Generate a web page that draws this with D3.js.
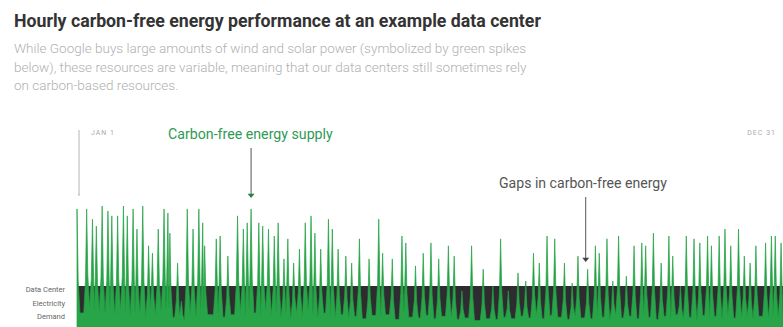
<!DOCTYPE html>
<html><head><meta charset="utf-8">
<script src="https://cdn.jsdelivr.net/npm/d3@7"></script>
<style>body{margin:0;background:#fff}svg{display:block}</style>
</head><body><svg id="c" width="783" height="327"></svg>
<script>
const titleText = "Hourly carbon-free energy performance at an example data center";
const subtitleLines = [
  "While Google buys large amounts of wind and solar power (symbolized by green spikes",
  "below), these resources are variable, meaning that our data centers still sometimes rely",
  "on carbon-based resources."
];
const startLabel = "JAN 1";
const endLabel = "DEC 31";
const supplyLabel = "Carbon-free energy supply";
const gapLabel = "Gaps in carbon-free energy";
const demandLabel = ["Data Center", "Electricity", "Demand"];

// day of year of each supply spike and its height (demand = 100)
const peakDay = [0,5,8,10,13,16,18,21,24,26,
  29,31,34,37,39,42,45,47,48,52,
  54,57,60,63,65,66,72,74,78,83,
  86,88,90,94,96,99,102,104,107,109,
  112,115,118,121,123,126,130,132,135,139,
  142,146,151,156,158,163,168,170,175,179,
  183,187,192,195,199,204,210,215,219,223,
  228,232,236,239,243,247,252,256,259,264,
  268,270,274,277,280,284,288,292,294,298,
  302,306,308,312,315,319,322,326,328,332,
  335,338,342,345,348,351,356,359,361,364];
const peakSupply = [288,288,263,246,295,283,271,271,295,271,
  288,239,295,198,180,239,288,278,229,156,
  63,288,239,288,254,198,215,222,173,271,
  239,254,288,254,246,239,222,254,166,215,
  156,190,254,271,229,190,263,239,190,173,
  156,215,166,263,180,166,222,205,149,180,
  205,166,198,173,88,198,141,100,215,88,
  132,112,180,156,222,215,156,107,173,141,
  198,180,215,112,222,124,198,205,198,229,
  156,222,173,100,222,215,205,222,198,222,
  239,198,239,173,156,198,205,222,222,205];
// supply level in the lull after each spike
const troughSupply = [34,50,45,40,34,46,32,42,34,30,
  38,34,26,44,32,40,44,48,24,28,
  16,34,26,40,44,30,34,24,30,38,
  30,44,34,28,42,30,36,24,32,20,
  34,26,40,30,22,34,28,24,30,22,
  26,20,28,24,30,18,34,24,22,28,
  20,26,24,18,22,16,20,18,24,20,
  26,22,30,20,28,24,18,26,22,20,
  28,24,18,30,22,26,20,28,24,18,
  26,22,30,20,24,18,28,22,26,20,
  30,22,24,28,20,26,22,28,24,26];
const demandLevel = 100;

const svg = d3.select("#c");
const x = d3.scaleLinear().domain([0, 365]).range([77, 783]);
const y = d3.scaleLinear().domain([0, 300]).range([327, 204]);

// demand band
svg.append("rect")
  .attr("x", x(0)).attr("width", x(365) - x(0))
  .attr("y", y(demandLevel)).attr("height", y(0) - y(demandLevel))
  .attr("fill", "#2f2c31");

// supply spikes: needle shape (narrow top, wider foot)
const W = 1.5, S = 0.6, SH = 0.32;
const pts = [];
peakDay.forEach((d, i) => {
  const p = peakSupply[i];
  const tPrev = i > 0 ? troughSupply[i - 1] : troughSupply[0];
  const tNext = troughSupply[i];
  const gPrev = i > 0 ? d - peakDay[i - 1] : 2 * W;
  const gNext = i < peakDay.length - 1 ? peakDay[i + 1] - d : 2 * W;
  if (i > 0 && gPrev / 2 > S) pts.push({d: d - S, v: tPrev + (p - tPrev) * SH});
  pts.push({d: d, v: p});
  if (gNext / 2 > S) pts.push({d: d + S, v: tNext + (p - tNext) * SH});
  if (i < peakDay.length - 1) {
    const w = Math.min(W, gNext / 2);
    pts.push({d: d + w, v: tNext});
    if (gNext / 2 > W) pts.push({d: peakDay[i + 1] - w, v: tNext});
  } else {
    pts.push({d: 365, v: tNext});
  }
});
const area = d3.area().x(p => x(p.d)).y0(y(0)).y1(p => y(p.v));
svg.append("path").datum(pts).attr("d", area)
  .attr("fill", "#27a548").attr("stroke", "#22a043").attr("stroke-width", 0.7)
  .attr("stroke-linejoin", "round");

// text helpers
function fit(sel, target) {
  const w = sel.node().getComputedTextLength();
  const fs = parseFloat(sel.attr("font-size"));
  sel.attr("font-size", fs * target / w);
  return fs * target / w;
}

const title = svg.append("text").attr("x", 14).attr("y", 27)
  .attr("font-family", "Roboto, sans-serif").attr("font-weight", 700)
  .attr("font-size", 17).attr("fill", "#333").text(titleText);
fit(title, 527);

const subs = subtitleLines.map((t, i) => svg.append("text")
  .attr("x", 14).attr("y", 53 + i * 18.5)
  .attr("font-family", "Roboto, sans-serif").attr("font-weight", 300)
  .attr("font-size", 12.5).attr("fill", "#b0b0b0").text(t));
const sfs = fit(subs[1], 513);
subs.forEach(s => s.attr("font-size", sfs));

// JAN 1 / DEC 31
svg.append("text").attr("x", 91).attr("y", 135)
  .attr("font-family", "Roboto, sans-serif").attr("font-size", 7)
  .attr("letter-spacing", 1).attr("fill", "#aaa").text(startLabel);
svg.append("text").attr("x", 776).attr("y", 135).attr("text-anchor", "end")
  .attr("font-family", "Roboto, sans-serif").attr("font-size", 7)
  .attr("letter-spacing", 1).attr("fill", "#aaa").text(endLabel);

function arrow(xp, y1, y2, lineCol, headCol, hw) {
  svg.append("line").attr("x1", xp).attr("x2", xp).attr("y1", y1).attr("y2", y2 - 2)
    .attr("stroke", lineCol).attr("stroke-width", 1);
  svg.append("path")
    .attr("d", `M${xp - hw},${y2 - hw * 1.2}L${xp + hw},${y2 - hw * 1.2}L${xp},${y2}Z`)
    .attr("fill", headCol);
}
arrow(x(0) + 2, 130, 196, "#b5b5b5", "#b5b5b5", 1.5);
arrow(x(90), 148, 198, "#555", "#2f7d45", 3.5);
arrow(x(263), 197, 262, "#555", "#444", 3.5);

const sl = svg.append("text").attr("x", 168).attr("y", 138.5)
  .attr("font-family", "Roboto, sans-serif").attr("font-size", 13)
  .attr("fill", "#2f9a55").text(supplyLabel);
fit(sl, 165);
const gl = svg.append("text").attr("x", 499).attr("y", 188)
  .attr("font-family", "Roboto, sans-serif").attr("font-size", 13)
  .attr("fill", "#555").text(gapLabel);
fit(gl, 168);

demandLabel.forEach((t, i) => svg.append("text")
  .attr("x", 65).attr("y", 292 + i * 13.5).attr("text-anchor", "end")
  .attr("font-family", "Roboto, sans-serif").attr("font-size", 7.5)
  .attr("fill", "#666").text(t));
</script>
</body></html>
